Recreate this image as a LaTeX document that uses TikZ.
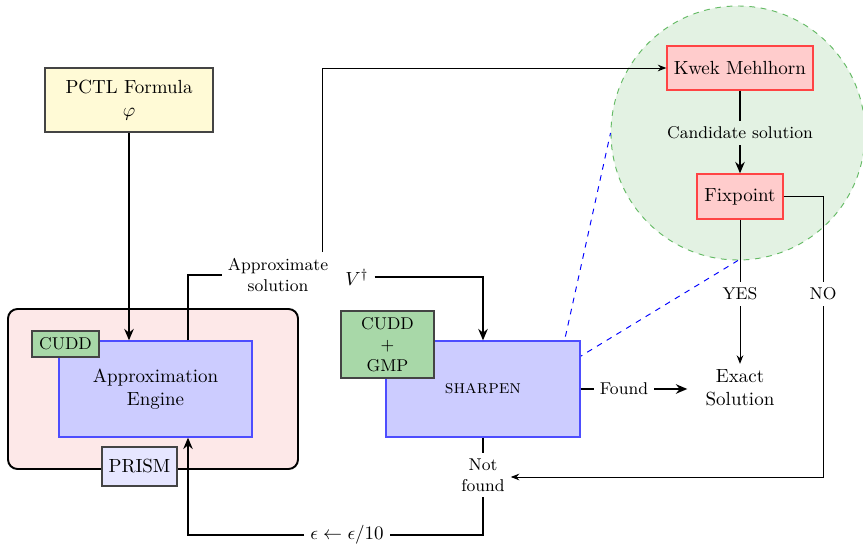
\documentclass[tikz,border=0pt]{standalone}
\usetikzlibrary{arrows.meta,shapes.geometric}
\newdimen\px \px=0.5263pt
\definecolor{pctlfill}{RGB}{255,250,214}
\definecolor{outerfill}{RGB}{253,232,232}
\definecolor{engfill}{RGB}{204,204,255}
\definecolor{engdraw}{RGB}{77,77,255}
\definecolor{libfill}{RGB}{168,216,168}
\definecolor{libdraw}{RGB}{68,68,68}
\definecolor{prismfill}{RGB}{230,230,255}
\definecolor{circfill}{RGB}{227,242,227}
\definecolor{circdraw}{RGB}{102,187,102}
\definecolor{kwfill}{RGB}{255,204,204}
\definecolor{kwdraw}{RGB}{255,68,68}
\tikzset{
  boxbase/.style={rectangle, inner sep=0pt, align=center, line width=0.7pt},
  pctlbox/.style={boxbase, fill=pctlfill, draw=libdraw},
  outerbox/.style={rectangle, draw=black, fill=outerfill, line width=1pt, rounded corners=5pt},
  engbox/.style={boxbase, fill=engfill, draw=engdraw},
  libbox/.style={boxbase, fill=libfill, draw=libdraw, font=\small},
  prismbox/.style={boxbase, fill=prismfill, draw=libdraw},
  kwbox/.style={boxbase, fill=kwfill, draw=kwdraw},
  lbl/.style={font=\small, align=center, inner sep=3pt},
  thickc/.style={line width=1pt},
  thinc/.style={line width=0.5pt},
  tipc/.style={-{Stealth[length=6pt,width=5pt,inset=2pt]}},
  smalltip/.style={-{Stealth[length=4.5pt,width=3.5pt,inset=1.5pt]}},
  zoomline/.style={blue, dashed, line width=0.5pt},
}
\begin{document}
\begin{tikzpicture}[x=\px,y=-\px]
\useasboundingbox (0,0) rectangle (863,549);

% zoom circle
\node[circle, minimum size=254\px, inner sep=0pt, fill=circfill, draw=circdraw, dashed, line width=0.5pt] (zoomc) at (738,133) {};
\coordinate (spyc) at (558,370);
\draw[zoomline] (spyc) -- (zoomc.west);
\draw[zoomline] (spyc) -- (zoomc.south);

% left part
\node[pctlbox, minimum width=168\px, minimum height=64\px] (pctl) at (129,100) {PCTL Formula\\$\varphi$};
\node[outerbox, minimum width=290\px, minimum height=160\px] (outer) at (153,389) {};
\node[engbox, minimum width=193\px, minimum height=96\px] (ae) at (155.5,389) {Approximation\\Engine};
\node[libbox, minimum width=67\px, minimum height=26\px] (cudd) at (65.5,344) {CUDD};
\node[prismbox, minimum width=75\px, minimum height=39\px] (prism) at (139.5,466.5) {PRISM};

% middle
\node[engbox, minimum width=194\px, minimum height=96\px] (sharpen) at (483,389) {\textsc{sharpen}};
\node[libbox, minimum width=93\px, minimum height=67\px] (gmp) at (387.5,344.5) {CUDD\\+\\GMP};
\node[inner sep=3pt] (vdag) at (357,277) {$V^\dagger$};
\node[lbl] (asol) at (278,275) {Approximate\\solution};
\node[lbl] (found) at (624,389) {Found};
\node[lbl] (notfound) at (483,475) {Not\\found};
\node[inner sep=3pt] (eps) at (347,535) {$\epsilon \leftarrow \epsilon/10$};
\node[align=center, inner xsep=18\px, inner ysep=3pt] (exact) at (740,388) {Exact\\Solution};

% right
\node[kwbox, minimum width=146\px, minimum height=44\px] (kwek) at (740,68) {Kwek Mehlhorn};
\node[lbl, fill=circfill] (cand) at (740,133) {Candidate solution};
\node[kwbox, minimum width=86\px, minimum height=45\px] (fix) at (740,196.5) {Fixpoint};
\node[lbl] (yes) at (740,294) {YES};
\node[lbl] (no) at (823,294) {NO};

% connectors
\draw[thickc, tipc] (pctl.south) -- (pctl.south |- ae.north);
\draw[thickc] ([xshift=32.5\px]ae.north) |- (asol.west);
\draw[thinc, smalltip] ([xshift=44.5\px]asol.north) |- (kwek.west);
\draw[thickc, tipc] (vdag.east) -| (sharpen.north);
\draw[thickc] (sharpen.east) -- (found.west);
\draw[thickc, tipc] (found.east) -- (found.east -| exact.west);
\draw[thickc] (sharpen.south) -- (notfound.north);
\draw[thickc] (notfound.south) |- (eps.east);
\draw[thickc, tipc] (eps.west) -| ([xshift=32.5\px]ae.south);
\draw[thickc] (kwek.south) -- (cand.north);
\draw[thickc, tipc] (cand.south) -- (fix.north);
\draw[thinc] (fix.south) -- (yes.north);
\draw[thinc, smalltip] (yes.south) -- (exact.north);
\draw[thinc] (fix.east) -| (no.north);
\draw[thinc, smalltip] (no.south) |- ([yshift=-2\px]notfound.east);
\end{tikzpicture}
\end{document}
